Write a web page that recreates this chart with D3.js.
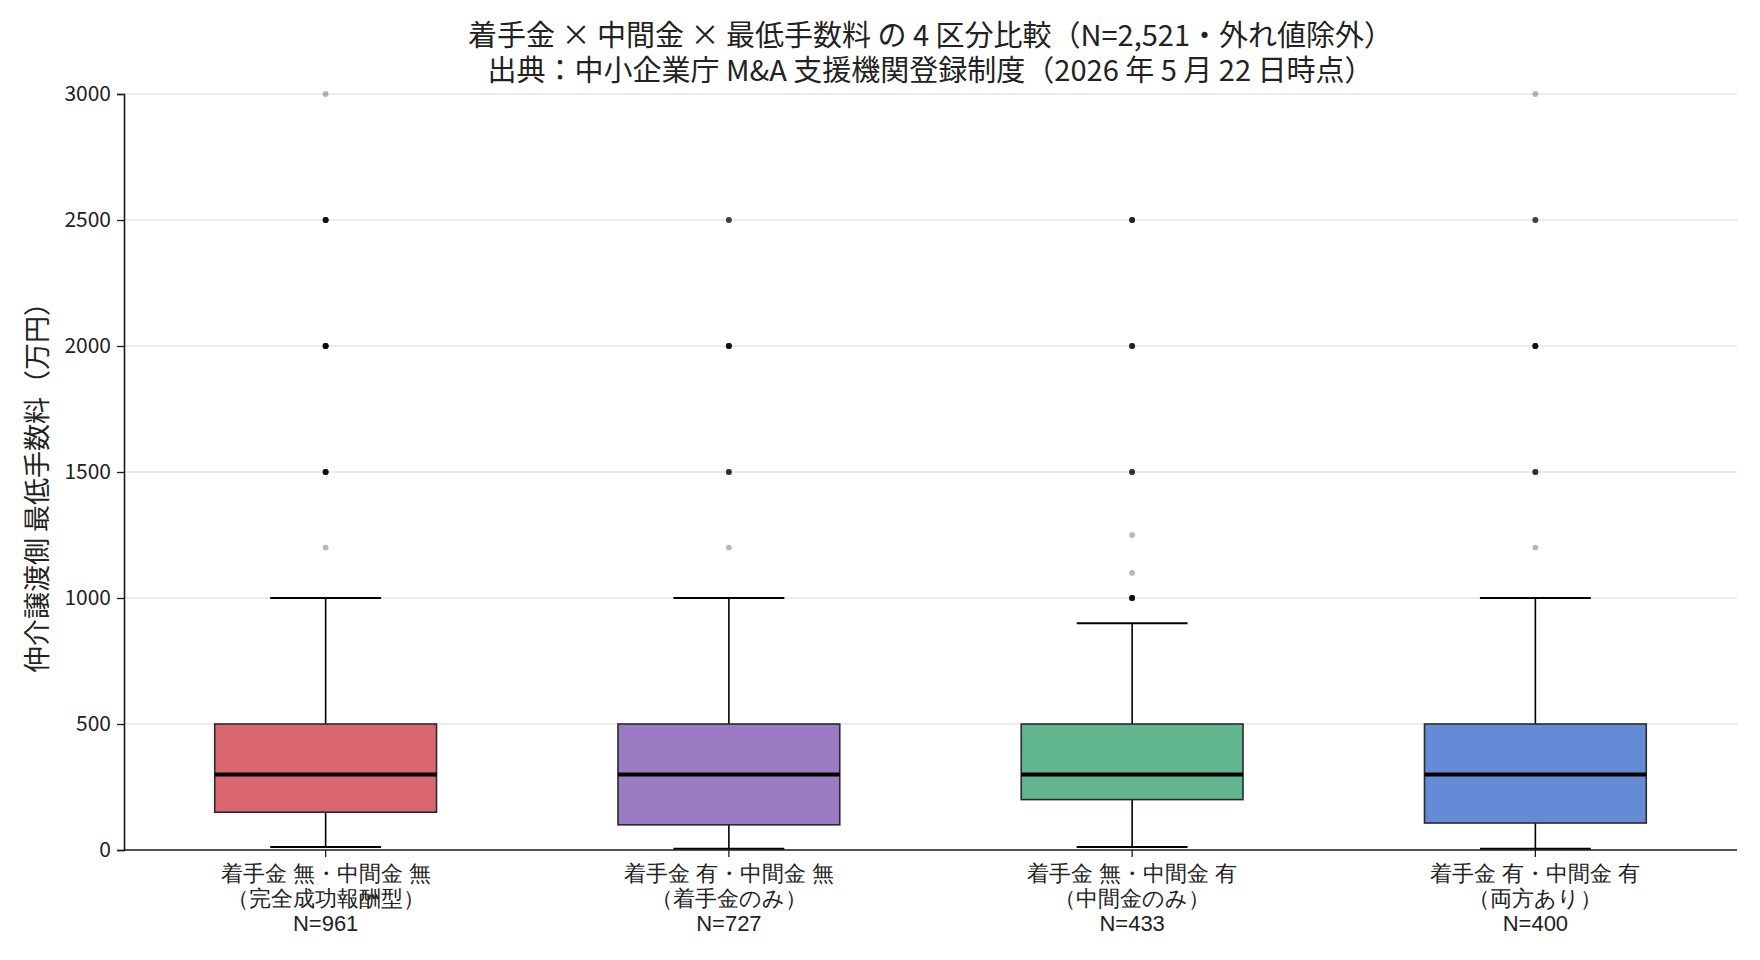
<!DOCTYPE html>
<html>
<head>
<meta charset="utf-8">
<script src="https://cdn.jsdelivr.net/npm/d3@7"></script>
<style>
  body { margin: 0; background: #fff; }
  svg { font-family: "Noto Sans CJK JP", "Noto Sans", sans-serif; }
</style>
</head>
<body>
<svg id="chart" width="1760" height="960"></svg>
<script>
// groups (x categories)
const groupLines = [
  ["着手金 無・中間金 無", "（完全成功報酬型）", "N=961"],
  ["着手金 有・中間金 無", "（着手金のみ）", "N=727"],
  ["着手金 無・中間金 有", "（中間金のみ）", "N=433"],
  ["着手金 有・中間金 有", "（両方あり）", "N=400"]
]
const groupKeys = ["none", "upfront", "interim", "both"]
const colors = ["#d96670", "#9b7bc4", "#61b690", "#668bd6"]

// box stats (万円)
const whiskerLow = [12, 5, 12, 5]
const q1 = [150, 100, 200, 107]
const median = [300, 300, 300, 300]
const q3 = [500, 500, 500, 500]
const whiskerHigh = [1000, 1000, 900, 1000]

// outliers: value and how many points overlap there
const outliers = [
  [{v: 1200, n: 1}, {v: 1500, n: 8}, {v: 2000, n: 10}, {v: 2500, n: 8}, {v: 3000, n: 1}],
  [{v: 1200, n: 1}, {v: 1500, n: 5}, {v: 2000, n: 8}, {v: 2500, n: 4}],
  [{v: 1000, n: 8}, {v: 1100, n: 1}, {v: 1250, n: 1}, {v: 1500, n: 5}, {v: 2000, n: 6}, {v: 2500, n: 6}],
  [{v: 1200, n: 1}, {v: 1500, n: 5}, {v: 2000, n: 8}, {v: 2500, n: 4}, {v: 3000, n: 1}]
]

const yTicks = [0, 500, 1000, 1500, 2000, 2500, 3000]

const titleLines = [
  "着手金 × 中間金 × 最低手数料 の 4 区分比較（N=2,521・外れ値除外）",
  "出典：中小企業庁 M&A 支援機関登録制度（2026 年 5 月 22 日時点）"
]

const margin = {left: 124, right: 1737, top: 94, bottom: 850}

const svg = d3.select("#chart")

const x = d3.scaleBand()
  .domain(groupKeys)
  .range([margin.left, margin.right])
  .padding(0)
const y = d3.scaleLinear()
  .domain([0, 3000])
  .range([margin.bottom, margin.top])

const boxW = x.bandwidth() * 0.55
const capW = boxW * 0.5

// grid
svg.append("g")
  .selectAll("line")
  .data(yTicks.slice(1))
  .join("line")
  .attr("x1", margin.left).attr("x2", margin.right)
  .attr("y1", d => y(d)).attr("y2", d => y(d))
  .attr("stroke", "#e6e6e6")
  .attr("stroke-width", 1.3)

// boxes
const g = svg.append("g")
  .selectAll("g")
  .data(groupKeys)
  .join("g")
  .attr("transform", d => `translate(${x(d) + x.bandwidth() / 2},0)`)

g.append("line")
  .attr("y1", (d, i) => y(whiskerLow[i])).attr("y2", (d, i) => y(q1[i]))
  .attr("stroke", "#000").attr("stroke-width", 1.6)
g.append("line")
  .attr("y1", (d, i) => y(q3[i])).attr("y2", (d, i) => y(whiskerHigh[i]))
  .attr("stroke", "#000").attr("stroke-width", 1.6)
g.append("line")
  .attr("x1", -capW / 2).attr("x2", capW / 2)
  .attr("y1", (d, i) => y(whiskerLow[i])).attr("y2", (d, i) => y(whiskerLow[i]))
  .attr("stroke", "#000").attr("stroke-width", 2)
g.append("line")
  .attr("x1", -capW / 2).attr("x2", capW / 2)
  .attr("y1", (d, i) => y(whiskerHigh[i])).attr("y2", (d, i) => y(whiskerHigh[i]))
  .attr("stroke", "#000").attr("stroke-width", 2)

g.append("rect")
  .attr("x", -boxW / 2).attr("width", boxW)
  .attr("y", (d, i) => y(q3[i]))
  .attr("height", (d, i) => y(q1[i]) - y(q3[i]))
  .attr("fill", (d, i) => colors[i])
  .attr("stroke", "#2b2b2b").attr("stroke-width", 1.6)

g.append("line")
  .attr("x1", -boxW / 2).attr("x2", boxW / 2)
  .attr("y1", (d, i) => y(median[i])).attr("y2", (d, i) => y(median[i]))
  .attr("stroke", "#000").attr("stroke-width", 4)

// outliers, stacked translucent dots
g.each(function (d, i) {
  const pts = []
  outliers[i].forEach(o => d3.range(o.n).forEach(() => pts.push(o.v)))
  d3.select(this).selectAll("circle")
    .data(pts)
    .join("circle")
    .attr("cx", 0).attr("cy", v => y(v))
    .attr("r", 2.9)
    .attr("fill", "#000").attr("fill-opacity", 0.28)
})

// axes
const yAxis = d3.axisLeft(y).tickValues(yTicks).tickFormat(d3.format("d")).tickSize(7).tickPadding(6)
const ya = svg.append("g")
  .attr("transform", `translate(${margin.left},0)`)
  .call(yAxis)
ya.select(".domain").attr("stroke", "#1a1a1a").attr("stroke-width", 1.6)
ya.selectAll(".tick line").attr("stroke", "#1a1a1a").attr("stroke-width", 1.3)
ya.selectAll(".tick text").attr("font-size", 21).attr("fill", "#222")
  .attr("font-family", "'Noto Sans CJK JP'")

const xAxis = d3.axisBottom(x).tickSize(7).tickFormat("")
const xa = svg.append("g")
  .attr("transform", `translate(0,${margin.bottom})`)
  .call(xAxis)
xa.select(".domain").attr("stroke", "#1a1a1a").attr("stroke-width", 1.6)
  .attr("d", `M${margin.left},0H${margin.right}`)
xa.selectAll(".tick line").attr("stroke", "#1a1a1a").attr("stroke-width", 1.3)

xa.selectAll(".tick")
  .append("text")
  .attr("fill", "#222")
  .attr("font-size", 22)
  .attr("text-anchor", "middle")
  .selectAll("tspan")
  .data((d, i) => groupLines[i])
  .join("tspan")
  .attr("x", 0)
  .attr("y", (d, j) => 31 + j * 25)
  .text(d => d)

// y label
svg.append("text")
  .attr("transform", `translate(47,481) rotate(-90)`)
  .attr("text-anchor", "middle")
  .attr("font-size", 27)
  .attr("fill", "#222")
  .text("仲介譲渡側 最低手数料（万円）")

// title, one text per line
svg.append("g")
  .selectAll("text")
  .data(titleLines)
  .join("text")
  .attr("text-anchor", "middle")
  .attr("font-size", 29)
  .attr("fill", "#222")
  .attr("x", (margin.left + margin.right) / 2)
  .attr("y", (d, i) => 46 + i * 35)
  .text(d => d)
</script>
</body>
</html>
